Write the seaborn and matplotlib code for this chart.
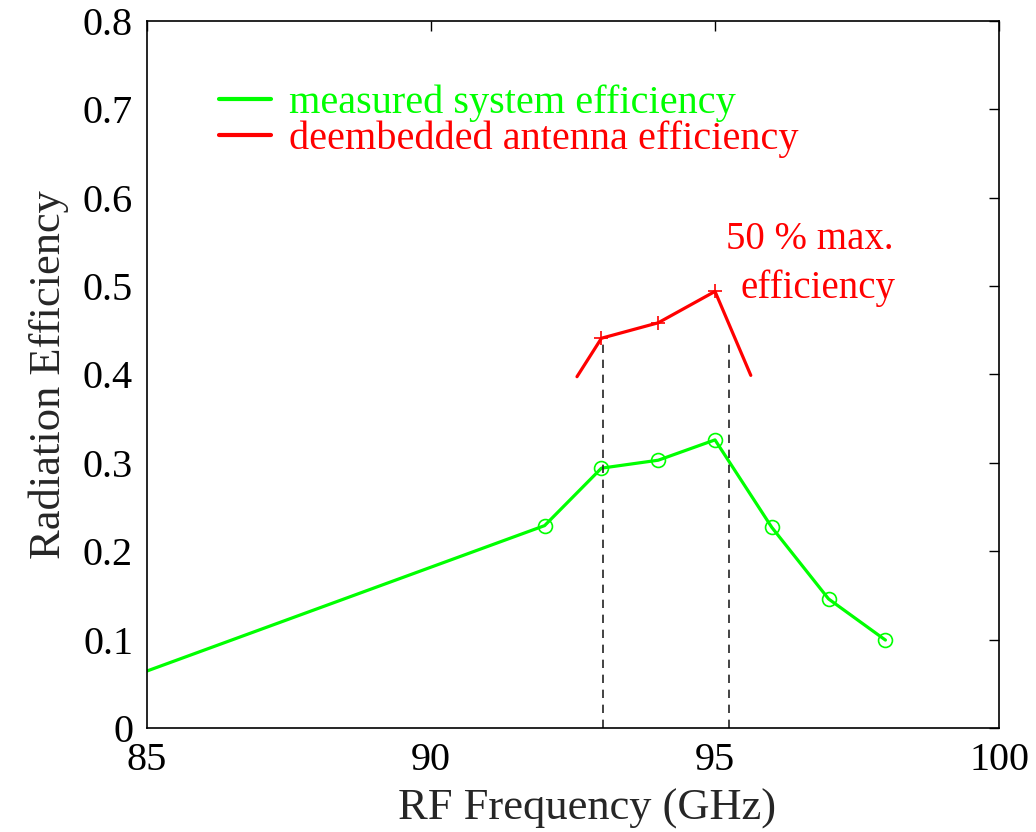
import matplotlib
matplotlib.use("Agg")
import matplotlib.pyplot as plt
from matplotlib.lines import Line2D
import seaborn as sns
import pandas as pd

# Measured system efficiency vs. RF frequency
freq_meas = [85.0, 92, 93, 94, 95, 96, 97, 98]
eff_meas = [0.0645, 0.229, 0.294, 0.303, 0.326, 0.227, 0.146, 0.0995]

# De-embedded antenna efficiency
freq_ant = [92.57, 93, 94, 95, 95.63]
eff_ant = [0.3975, 0.441, 0.4585, 0.494, 0.399]

# 50 % of max. efficiency band edges
band_edges = [93.02, 95.25]
band_top = 0.44

legend_labels = ["measured system efficiency", "deembedded antenna efficiency"]
x_ticks = [85, 90, 95, 100]
y_ticks = [0, 0.1, 0.2, 0.3, 0.4, 0.5, 0.6, 0.7, 0.8]
y_tick_labels = ["0", "0.1", "0.2", "0.3", "0.4", "0.5", "0.6", "0.7", "0.8"]

GREEN = "#00ff00"
RED = "#ff0000"

sns.set_style("white")
plt.rcParams["font.family"] = ["Liberation Serif", "DejaVu Serif"]

fig = plt.figure(figsize=(10.36, 8.32), dpi=100)
ax = fig.add_axes([0.1419, 0.125, 0.8224, 0.8498])

df_meas = pd.DataFrame({"f": freq_meas, "eff": eff_meas})
df_ant = pd.DataFrame({"f": freq_ant, "eff": eff_ant})

sns.lineplot(data=df_meas, x="f", y="eff", ax=ax, color=GREEN, lw=2.3,
             marker="o", markersize=10, markerfacecolor="none",
             markeredgecolor=GREEN, markeredgewidth=1.2,
             markevery=list(range(1, len(freq_meas))), sort=False)
sns.lineplot(data=df_ant, x="f", y="eff", ax=ax, color=RED, lw=2.3,
             marker="+", markersize=10, markeredgecolor=RED,
             markeredgewidth=1.2, markevery=[1, 2, 3], sort=False)

for xe in band_edges:
    ax.plot([xe, xe], [0, band_top], color="#222222", lw=1.2,
            ls=(0, (5, 4)))

ax.text(96.67, 0.553, "50 % max.", color=RED, fontsize=28,
        ha="center", va="center")
ax.text(96.82, 0.498, "efficiency", color=RED, fontsize=28,
        ha="center", va="center")

handles = [Line2D([], [], color=GREEN, lw=3), Line2D([], [], color=RED, lw=3)]
ax.legend(handles, legend_labels, loc="upper left",
          bbox_to_anchor=(0.085, 0.91), frameon=False, fontsize=29,
          handlelength=1.27, handletextpad=0.45, labelspacing=-0.05,
          labelcolor=[GREEN, RED], borderaxespad=0, borderpad=0)

ax.set_xlim(85, 100)
ax.set_ylim(0, 0.8)
ax.set_xticks(x_ticks)
ax.set_xticklabels([str(t) for t in x_ticks])
ax.set_yticks(y_ticks)
ax.set_yticklabels(y_tick_labels)
ax.tick_params(direction="in", length=7, width=1.0, top=True, right=True,
               labelsize=29, pad=10, colors="black")
for s in ax.spines.values():
    s.set_visible(True)
    s.set_color("black")
    s.set_linewidth(1.2)

ax.set_xlabel("RF Frequency (GHz)", fontsize=32)
ax.set_ylabel("Radiation Efficiency", fontsize=32, labelpad=10)
ax.xaxis.set_label_coords(0.516, -0.085, transform=ax.transAxes)
ax.xaxis.label.set_va("top")

fig.savefig("out.png", dpi=100, facecolor="white")
